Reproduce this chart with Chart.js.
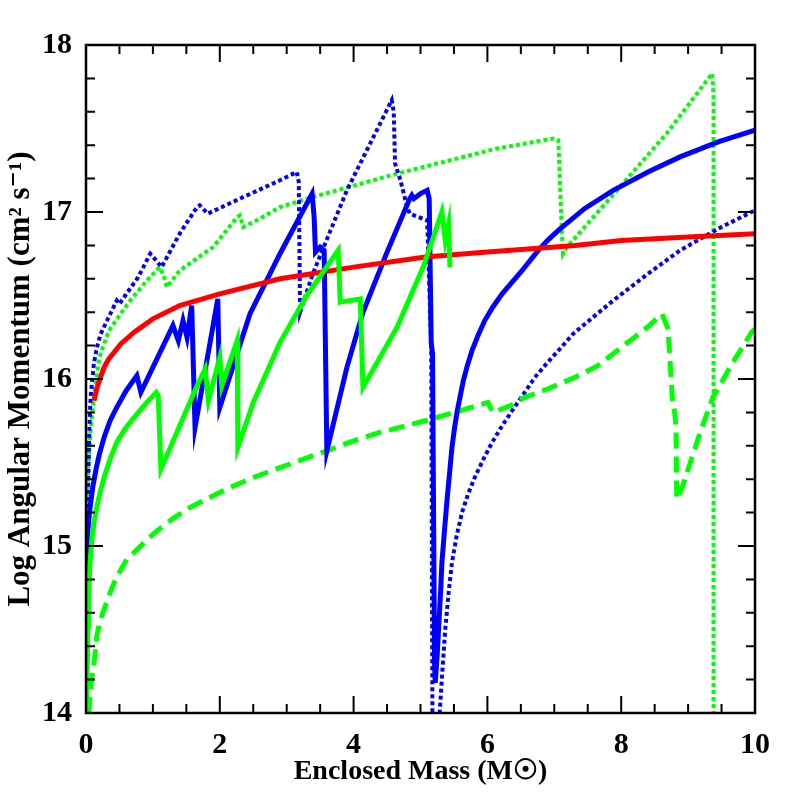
<!DOCTYPE html>
<html>
<head>
<meta charset="utf-8">
<script src="https://cdn.jsdelivr.net/npm/chart.js@4.4.0/dist/chart.umd.min.js"></script>
<style>
  html, body { margin: 0; padding: 0; background: #fff; }
  #wrap { width: 797px; height: 797px; }
</style>
</head>
<body>
<div id="wrap"><canvas id="chart" width="797" height="797"></canvas></div>
<script>
// axis ticks
const xTicks = [0, 2, 4, 6, 8, 10];
const yTicks = [14, 15, 16, 17, 18];
const xMinorStep = 0.5;
const yMinorStep = 0.2;

// [enclosed mass, log j]
const redSolid = [[0.12,15.87],[0.16,15.94],[0.2,15.99],[0.27,16.07],[0.34,16.12],[0.4,16.15],[0.52,16.21],[0.72,16.28],[1,16.36],[1.4,16.44],[2,16.51],[2.9,16.6],[4,16.67],[5.07,16.73],[6,16.76],[7.31,16.8],[8,16.83],[9,16.85],[10,16.87]];

const blueSolid = [[0,14.4],[0.005,14.7],[0.01,14.9],[0.02,15.02],[0.03,15.1],[0.05,15.19],[0.07,15.26],[0.1,15.35],[0.15,15.46],[0.2,15.55],[0.27,15.65],[0.36,15.75],[0.46,15.83],[0.6,15.93],[0.76,16.02],[0.82,15.92],[1.3,16.32],[1.38,16.23],[1.45,16.35],[1.51,16.25],[1.58,16.44],[1.63,15.71],[1.97,16.48],[2,15.83],[2.45,16.39],[2.9,16.75],[3.38,17.11],[3.41,16.97],[3.43,16.76],[3.5,16.79],[3.56,16.77],[3.6,15.57],[3.9,16.07],[4.14,16.4],[4.5,16.76],[4.84,17.08],[4.87,17.1],[4.9,17.08],[5,17.11],[5.1,17.13],[5.13,17.08],[5.16,16.22],[5.18,16.15],[5.21,14.3],[5.22,14.18],[5.25,14.35],[5.27,14.5],[5.3,14.72],[5.32,14.9],[5.36,15.1],[5.4,15.29],[5.44,15.46],[5.47,15.59],[5.51,15.71],[5.55,15.81],[5.6,15.91],[5.64,15.99],[5.7,16.08],[5.77,16.17],[5.86,16.26],[5.96,16.35],[6.08,16.43],[6.22,16.51],[6.37,16.58],[6.52,16.65],[6.64,16.71],[6.76,16.77],[6.9,16.83],[7.06,16.89],[7.45,17.02],[7.88,17.13],[8.4,17.24],[8.88,17.33],[9.45,17.42],[10,17.49]];

const blueDotted = [[0.01,14.6],[0.02,15.0],[0.03,15.3],[0.05,15.7],[0.07,15.9],[0.12,16.1],[0.17,16.2],[0.22,16.27],[0.35,16.38],[0.46,16.47],[0.5,16.45],[0.78,16.61],[0.96,16.75],[1.05,16.71],[1.13,16.67],[1.4,16.87],[1.66,17.03],[1.7,17.04],[1.82,16.99],[2.3,17.08],[2.9,17.19],[3.15,17.24],[3.18,17.18],[3.2,16.4],[3.39,16.63],[3.9,17.13],[4.57,17.67],[4.6,17.6],[4.62,17.29],[4.7,17.19],[4.8,17.03],[4.84,16.99],[5.1,16.95],[5.16,16.2],[5.18,13.8],[5.27,13.8],[5.29,14.02],[5.33,14.27],[5.37,14.5],[5.42,14.72],[5.47,14.9],[5.54,15.06],[5.62,15.2],[5.71,15.31],[5.81,15.41],[5.94,15.52],[6.07,15.62],[6.22,15.72],[6.37,15.81],[6.54,15.91],[6.71,16.01],[6.88,16.09],[7.06,16.17],[7.28,16.27],[7.58,16.37],[7.88,16.47],[8.4,16.63],[8.88,16.77],[9.45,16.9],[10,17.01]];

const greenSolid = [[0,14.02],[0.01,14.15],[0.02,14.3],[0.03,14.52],[0.04,14.7],[0.06,14.9],[0.09,15.05],[0.12,15.14],[0.16,15.23],[0.21,15.32],[0.27,15.41],[0.36,15.52],[0.46,15.62],[0.58,15.7],[0.72,15.77],[0.91,15.86],[1.05,15.92],[1.08,15.9],[1.12,15.46],[1.4,15.72],[1.66,15.96],[1.78,16.06],[1.83,15.87],[2,16.13],[2.03,15.96],[2.26,16.23],[2.27,15.59],[2.5,15.86],[2.9,16.22],[3.3,16.5],[3.77,16.77],[3.8,16.46],[4.1,16.48],[4.14,15.95],[4.65,16.31],[5.04,16.67],[5.32,17.0],[5.37,16.83],[5.42,16.93],[5.44,16.67]];

const greenDashed = [[0.04,14.0],[0.07,14.14],[0.09,14.22],[0.12,14.3],[0.16,14.46],[0.21,14.55],[0.27,14.62],[0.34,14.7],[0.42,14.78],[0.51,14.85],[0.61,14.92],[0.74,14.97],[0.87,15.02],[1,15.07],[1.12,15.11],[1.32,15.17],[1.55,15.23],[1.85,15.29],[2.15,15.35],[2.5,15.41],[2.9,15.47],[3.25,15.52],[3.6,15.57],[4,15.63],[4.39,15.68],[4.69,15.71],[5.07,15.75],[5.5,15.8],[6.01,15.86],[6.08,15.8],[6.34,15.84],[6.56,15.89],[6.9,15.94],[7.31,16.01],[7.65,16.08],[7.94,16.17],[8.2,16.25],[8.39,16.31],[8.61,16.39],[8.7,16.3],[8.77,15.85],[8.8,15.8],[8.82,15.7],[8.83,15.28],[8.91,15.35],[9.18,15.68],[9.37,15.89],[9.67,16.1],[9.95,16.28],[10,16.3]];

const greenDotted = [[0,14.0],[0.01,14.6],[0.02,15.1],[0.03,15.46],[0.07,15.7],[0.12,15.9],[0.2,16.13],[0.34,16.29],[0.66,16.47],[0.91,16.59],[1.1,16.67],[1.16,16.62],[1.21,16.55],[1.4,16.65],[1.9,16.79],[2.26,16.97],[2.3,16.98],[2.35,16.91],[2.6,16.96],[2.9,17.03],[3.39,17.09],[4.65,17.23],[6.14,17.38],[6.98,17.44],[7.06,17.43],[7.11,16.91],[7.13,16.75],[7.19,16.79],[7.98,17.15],[8.68,17.47],[9.36,17.83],[9.38,17.7],[9.38,13.8]];

const toPts = arr => arr.map(p => ({ x: p[0], y: p[1] }));

function series(pts, color, width, dash) {
  return {
    data: toPts(pts),
    showLine: true,
    borderColor: color,
    backgroundColor: color,
    borderWidth: width,
    borderDash: dash || [],
    pointRadius: 0,
    pointHoverRadius: 0,
    tension: 0,
    fill: false
  };
}

// box frame with inward ticks on all four sides
const frameTicks = {
  id: 'frameTicks',
  afterDatasetsDraw(chart) {
    const { ctx, chartArea: { left, right, top, bottom }, scales: { x, y } } = chart;
    ctx.save();
    ctx.strokeStyle = '#000';
    ctx.lineWidth = 2;
    ctx.beginPath();
    const nx = Math.round((x.max - x.min) / xMinorStep);
    for (let i = 0; i <= nx; i++) {
      const v = x.min + i * xMinorStep;
      const px = x.getPixelForValue(v);
      const len = xTicks.includes(v) ? 17 : 9;
      ctx.moveTo(px, bottom); ctx.lineTo(px, bottom - len);
      ctx.moveTo(px, top); ctx.lineTo(px, top + len);
    }
    const ny = Math.round((y.max - y.min) / yMinorStep);
    for (let i = 0; i <= ny; i++) {
      const py = y.getPixelForValue(y.min + i * yMinorStep);
      const len = i % 5 === 0 ? 17 : 9;
      ctx.moveTo(left, py); ctx.lineTo(left + len, py);
      ctx.moveTo(right, py); ctx.lineTo(right - len, py);
    }
    ctx.stroke();
    ctx.lineWidth = 2.5;
    ctx.strokeRect(left, top, right - left, bottom - top);
    ctx.restore();
  }
};

const serif = '"Liberation Serif", "DejaVu Serif", serif';
const tickFont = { family: serif, size: 30, weight: 'bold' };

new Chart(document.getElementById('chart').getContext('2d'), {
  type: 'scatter',
  data: {
    datasets: [
      series(greenSolid, '#00ff00', 5),
      series(redSolid, '#ff0000', 5),
      series(blueSolid, '#0000ff', 5),
      series(greenDashed, '#00ff00', 5, [16, 8]),
      series(blueDotted, '#0000ff', 4, [4, 3]),
      series(greenDotted, '#00ff00', 4, [4, 3])
    ]
  },
  options: {
    responsive: false,
    animation: false,
    events: [],
    layout: { padding: { top: 45, right: 42, left: 0, bottom: 0 } },
    plugins: { legend: { display: false }, tooltip: { enabled: false } },
    scales: {
      x: {
        type: 'linear',
        min: 0,
        max: 10,
        afterBuildTicks: s => { s.ticks = xTicks.map(v => ({ value: v })); },
        afterFit: s => { s.height = 84; },
        grid: { display: false, drawTicks: false },
        border: { display: false },
        ticks: { color: '#000', font: tickFont, padding: 14, maxRotation: 0 },
        title: {
          display: true,
          text: 'Enclosed Mass (M\u2609)',
          color: '#000',
          font: { family: serif, size: 28, weight: 'bold', lineHeight: 1 },
          padding: { top: 0, bottom: 11 }
        }
      },
      y: {
        type: 'linear',
        min: 14,
        max: 18,
        afterBuildTicks: s => { s.ticks = yTicks.map(v => ({ value: v })); },
        afterFit: s => { s.width = 86; },
        grid: { display: false, drawTicks: false },
        border: { display: false },
        ticks: { color: '#000', font: tickFont, padding: 14 },
        title: {
          display: true,
          text: 'Log Angular Momentum (cm\u00b2 s\u207b\u00b9)',
          color: '#000',
          font: { family: serif, size: 31, weight: 'bold', lineHeight: 1 },
          padding: { top: 5, bottom: 0 }
        }
      }
    }
  },
  plugins: [frameTicks]
});
</script>
</body>
</html>
